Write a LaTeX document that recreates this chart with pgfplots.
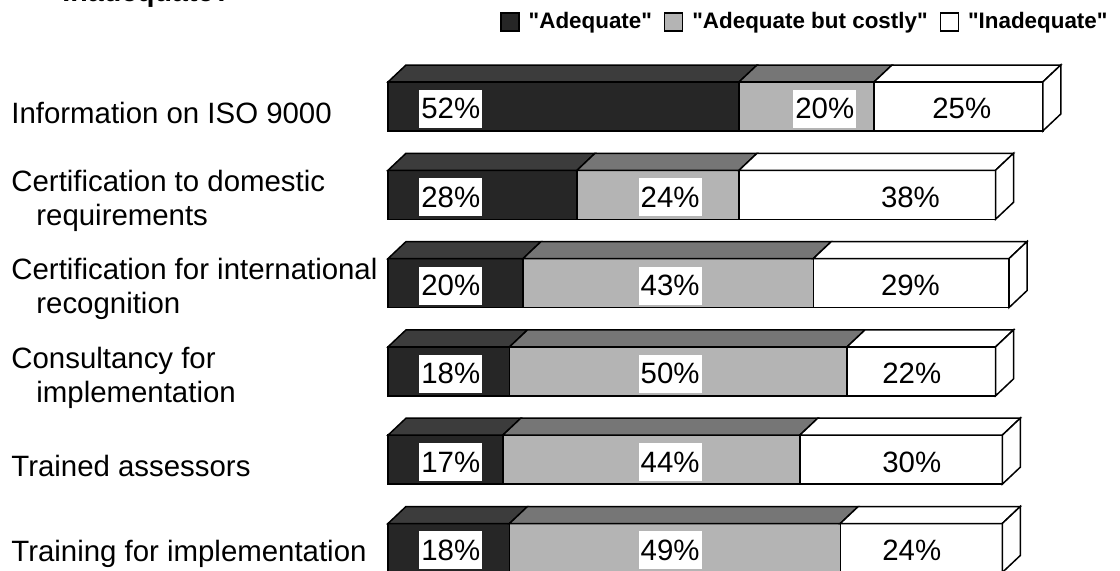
\documentclass[border=0pt]{standalone}
\usepackage{pgfplots}
\pgfplotsset{compat=1.18}
\usepackage{pgfplotstable}
\usepackage{fontspec}
\setmainfont{Liberation Sans}[Ligatures=TeXOff]

\definecolor{cdark}{HTML}{262626}
\definecolor{cdarktop}{HTML}{3C3C3C}
\definecolor{clight}{HTML}{B4B4B4}
\definecolor{clighttop}{HTML}{767676}

% Shares per item (percent); lx, mx, rx give where each value label sits
\pgfplotstableread{
row a  b  c  lx   mx    rx
1   52 20 25 9.3  64.7  85.0
2   28 24 38 9.3  41.8  77.4
3   20 43 29 9.3  41.8  77.4
4   18 50 22 9.3  41.8  77.6
5   17 44 30 9.3  41.8  77.6
6   18 49 24 9.3  41.8  77.6
}\survey

% depth of the 3-D bars (x in percent, y in rows) and half the bar height
\newcommand\depx{2.667}
\newcommand\depy{0.1925}
\newcommand\halfh{0.2775}

\pgfplotsset{
  frame/.style={scale only axis, width=560pt, height=285.5pt,
    xmin=-57.481, xmax=108.444, ymin=-0.2061, ymax=6.2604, y dir=reverse},
  face/.style={draw=black, line width=0.75pt, mark=none},
  vallabel/.style={draw=none, mark=none, point meta=explicit,
    /pgf/number format/assume math mode=true,
    nodes near coords={\pgfmathprintnumber{\pgfplotspointmeta}\%},
    nodes near coords align={center},
    nodes near coords style={fill=white, text=black, inner xsep=1pt,
      inner ysep=3.9pt, text height=10.6pt, text depth=0.6pt, yshift=-1.2pt,
      font=\fontsize{14.7}{17}\selectfont}},
}

\begin{document}
\begin{tikzpicture}
% front faces of the stacked bars
\begin{axis}[frame, name=ax, hide axis, xbar stacked, bar width=24.5pt,
  legend columns=-1,
  legend image code/.code={\draw[#1, line width=0.6pt] (0pt,-4.5pt) rectangle (9pt,4.5pt);
    \path (10.5pt,0pt);},
  legend style={at={(axis description cs:0.4464,0.9615)}, anchor=west,
    draw=none, fill=none, inner sep=0pt, nodes={inner sep=1pt},
    font=\bfseries\fontsize{11.2}{14}\selectfont,
    /tikz/every odd column/.style={column sep=2pt},
    /tikz/every even column/.style={column sep=5pt}}]
\addplot[face, fill=cdark] table[x=a, y=row] {\survey};
\addlegendentry{"Adequate"}
\addplot[face, fill=clight] table[x=b, y=row] {\survey};
\addlegendentry{"Adequate but costly"}
\addplot[face, fill=white] table[x=c, y=row] {\survey};
\addlegendentry{"Inadequate"}
\end{axis}

% top and end faces, value labels, item names
\begin{axis}[frame, axis x line=none, axis y line*=left,
  y axis line style={draw=none}, major tick length=0pt,
  ytick={1,2,3,4,5,6},
  yticklabels={Information on ISO 9000,
    {Certification to domestic\\\hspace*{12.5pt}requirements},
    {Certification for international\\\hspace*{12.5pt}recognition},
    {Consultancy for\\\hspace*{12.5pt}implementation},
    Trained assessors,
    Training for implementation},
  yticklabel style={anchor=west, align=left, inner sep=0pt, xshift=5.5pt,
    yshift=-3pt, font=\fontsize{14.7}{17}\selectfont}]
\pgfplotsforeachungrouped \r in {0,...,5}{%
  \pgfplotstablegetelem{\r}{row}\of\survey \let\vy=\pgfplotsretval
  \pgfplotstablegetelem{\r}{a}\of\survey \let\va=\pgfplotsretval
  \pgfplotstablegetelem{\r}{b}\of\survey \let\vb=\pgfplotsretval
  \pgfplotstablegetelem{\r}{c}\of\survey \let\vc=\pgfplotsretval
  \pgfmathsetmacro\xA{\va}
  \pgfmathsetmacro\xB{\va+\vb}
  \pgfmathsetmacro\xC{\va+\vb+\vc}
  \pgfmathsetmacro\xAd{\xA+\depx}
  \pgfmathsetmacro\xBd{\xB+\depx}
  \pgfmathsetmacro\xCd{\xC+\depx}
  \pgfmathsetmacro\yF{\vy-\halfh}        % upper edge of the front face
  \pgfmathsetmacro\yB{\vy-\halfh-\depy}  % rear edge of the top face
  \pgfmathsetmacro\yL{\vy+\halfh}        % lower edge of the front face
  \pgfmathsetmacro\yLB{\vy+\halfh-\depy}
  \addplot[face, fill=cdarktop] coordinates {(0,\yF) (\depx,\yB) (\xAd,\yB) (\xA,\yF)} -- cycle;
  \addplot[face, fill=clighttop] coordinates {(\xA,\yF) (\xAd,\yB) (\xBd,\yB) (\xB,\yF)} -- cycle;
  \addplot[face, fill=white] coordinates {(\xB,\yF) (\xBd,\yB) (\xCd,\yB) (\xC,\yF)} -- cycle;
  \addplot[face, fill=white] coordinates {(\xC,\yF) (\xCd,\yB) (\xCd,\yLB) (\xC,\yL)} -- cycle;
}
\addplot[vallabel] table[x=lx, y=row, meta=a] {\survey};
\addplot[vallabel] table[x=mx, y=row, meta=b] {\survey};
\addplot[vallabel] table[x=rx, y=row, meta=c] {\survey};
\node[anchor=base west, inner sep=0pt, font=\bfseries\fontsize{14.3}{17}\selectfont]
  at (axis description cs:0.0554,0.998) {Inadequate?};
\end{axis}
\pgfresetboundingbox
\path[use as bounding box] (ax.south west) rectangle (ax.north east);
\end{tikzpicture}
\end{document}
